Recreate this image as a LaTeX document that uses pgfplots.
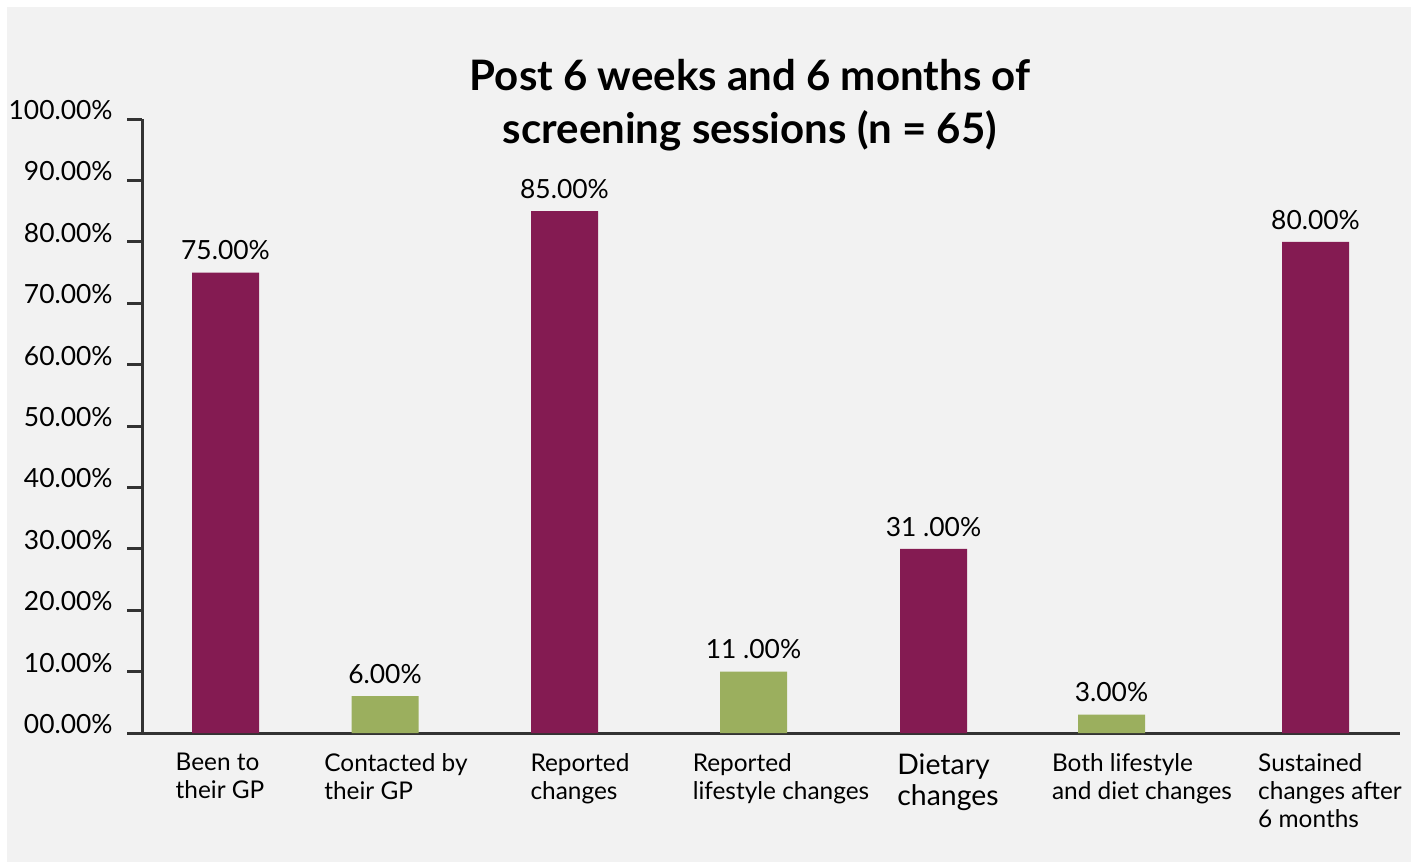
\documentclass[border=0pt]{standalone}
\usepackage{fontspec}
\setmainfont{Lato}
\usepackage{pgfplots}
\pgfplotsset{compat=1.18}
\definecolor{barmaroon}{HTML}{841B52}
\definecolor{bargreen}{HTML}{9BAF5E}
\definecolor{bg}{HTML}{F2F2F2}
\definecolor{axc}{HTML}{333333}
\newcommand{\dietfont}{\fontsize{14.2}{16.5}\selectfont}
\begin{document}
\begin{tikzpicture}
\fill[white] (0pt,0pt) rectangle (709pt,-431.5pt);
\fill[bg] (3.5pt,-3.5pt) rectangle (705.5pt,-431pt);
\node[align=center, font=\fontsize{21}{26.5}\selectfont\bfseries, text=black] at (375pt,-52.5pt) {Post 6 weeks and 6 months of\\screening sessions (n = 65)};
\begin{axis}[
  at={(71pt,-366.5pt)}, anchor=south west,
  scale only axis, width=629pt, height=307pt,
  xmin=142, xmax=1400, ymin=0, ymax=100,
  axis x line*=bottom, axis y line*=left,
  axis line style={draw=axc, line width=1.5pt, -},
  ytick={0,10,20,30,40,50,60,70,80,90,100},
  yticklabels={00.00\%,10.00\%,20.00\%,30.00\%,40.00\%,50.00\%,60.00\%,70.00\%,80.00\%,90.00\%,100.00\%},
  ytick style={draw=axc, line width=1.5pt},
  tick align=outside, major tick length=7.5pt,
  yticklabel style={anchor=east, yshift=4.5pt, xshift=-7pt, inner sep=0pt, font=\fontsize{13.2}{15}\selectfont, text=black},
  xtick={220,396,580,781,948,1142,1330},
  xticklabels={{Been to\\their GP},{Contacted by\\their GP},{Reported\\changes},{Reported\\lifestyle changes},{\dietfont Dietary\\[1.5pt]\dietfont changes},{Both lifestyle\\and diet changes},{Sustained\\changes after\\6 months}},
  xtick style={draw=none},
  xticklabel style={align=left, anchor=north, inner sep=0pt, yshift=-2.5pt, font=\fontsize{12.2}{14}\selectfont, text=black},
  point meta=explicit symbolic,
  nodes near coords,
  nodes near coords style={anchor=south, inner sep=0pt, yshift=6pt, font=\fontsize{13.2}{15}\selectfont, text=black},
  clip=false,
]
\addplot[ybar, bar shift=0pt, bar width=67, fill=barmaroon, draw=none] coordinates {
  (225.5,75) [75.00\%]
  (564.5,85) [85.00\%]
  (933.5,30) [31 .00\%]
  (1315.5,80) [80.00\%]
};
\addplot[ybar, bar shift=0pt, bar width=67, fill=bargreen, draw=none] coordinates {
  (385,6) [6.00\%]
  (753.5,10) [11 .00\%]
  (1111.5,3) [3.00\%]
};
\end{axis}
\end{tikzpicture}
\end{document}
